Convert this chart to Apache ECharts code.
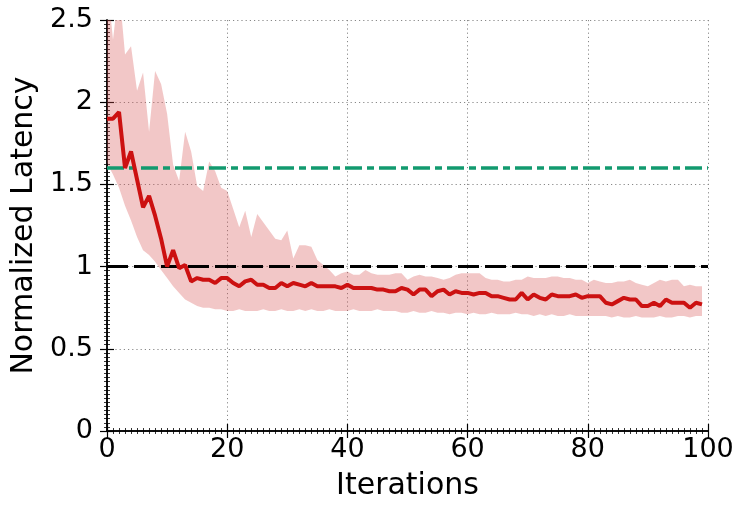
<!DOCTYPE html>
<html>
<head>
<meta charset="utf-8">
<script src="https://cdn.jsdelivr.net/npm/echarts@6/dist/echarts.min.js"></script>
<style>html,body{margin:0;padding:0;background:#fff}#c{width:750px;height:509px}</style>
</head>
<body>
<div id="c"></div>
<script>
const xTicks = [0, 20, 40, 60, 80, 100];
const yTicks = [0, 0.5, 1, 1.5, 2, 2.5];
const meanLatency = [
1.90,1.90,1.94,1.60,1.70,1.53,1.36,1.43,1.31,1.17,1.00,1.10,0.99,1.01,0.91,0.93,0.92,0.92,0.90,0.93,
0.93,0.90,0.88,0.91,0.92,0.89,0.89,0.87,0.87,0.90,0.88,0.90,0.89,0.88,0.90,0.88,0.88,0.88,0.88,0.87,
0.89,0.87,0.87,0.87,0.87,0.86,0.86,0.85,0.85,0.87,0.86,0.83,0.86,0.86,0.82,0.85,0.86,0.83,0.85,0.84,
0.84,0.83,0.84,0.84,0.82,0.82,0.81,0.80,0.80,0.84,0.80,0.83,0.81,0.80,0.83,0.82,0.82,0.82,0.83,0.81,
0.82,0.82,0.82,0.78,0.77,0.79,0.81,0.80,0.80,0.76,0.76,0.78,0.76,0.80,0.78,0.78,0.78,0.75,0.78,0.77];
const upperBand = [
2.75,2.38,2.70,2.29,2.34,2.07,2.18,1.82,2.19,2.11,1.93,1.62,1.52,1.82,1.70,1.49,1.46,1.64,1.58,1.48,
1.46,1.35,1.24,1.34,1.18,1.32,1.27,1.22,1.17,1.16,1.22,1.05,1.13,1.13,1.12,1.04,1.01,0.98,0.94,0.96,
0.97,0.95,0.95,0.98,0.96,0.95,0.95,0.95,0.96,0.96,0.92,0.94,0.95,0.94,0.94,0.93,0.92,0.93,0.95,0.96,
0.96,0.96,0.96,0.93,0.92,0.92,0.91,0.91,0.92,0.92,0.94,0.93,0.93,0.93,0.94,0.94,0.93,0.93,0.92,0.92,
0.90,0.92,0.91,0.90,0.90,0.91,0.91,0.92,0.90,0.89,0.88,0.90,0.92,0.91,0.92,0.92,0.88,0.89,0.88,0.88];
const lowerBand = [
1.63,1.56,1.48,1.37,1.28,1.18,1.10,1.07,1.03,0.98,0.93,0.88,0.84,0.80,0.78,0.76,0.75,0.75,0.74,0.74,
0.73,0.73,0.74,0.73,0.73,0.73,0.74,0.73,0.73,0.74,0.73,0.73,0.74,0.73,0.74,0.73,0.73,0.74,0.73,0.73,
0.73,0.74,0.73,0.73,0.73,0.74,0.73,0.73,0.73,0.72,0.72,0.73,0.72,0.72,0.73,0.72,0.72,0.71,0.72,0.72,
0.71,0.72,0.71,0.71,0.72,0.71,0.71,0.71,0.72,0.71,0.71,0.70,0.71,0.70,0.71,0.70,0.70,0.71,0.70,0.70,
0.70,0.70,0.70,0.70,0.69,0.70,0.69,0.69,0.70,0.69,0.69,0.69,0.70,0.69,0.69,0.70,0.70,0.69,0.70,0.70];
const baselineLevel = 1.6;   // green dash-dot
const referenceLevel = 1.0;  // black dashed

const iterations = meanLatency.map((_, i) => i);
const FONT = 'DejaVu Sans';

const chart = echarts.init(document.getElementById('c'), null, {renderer: 'canvas'});
const axisCommon = {
  type: 'value',
  axisLine: {show: true, lineStyle: {color: '#000', width: 1.5}},
  axisTick: {show: true, inside: true, length: 7, lineStyle: {color: '#000', width: 1.2}},
  minorTick: {show: true, length: 3, lineStyle: {color: '#000', width: 0.8}},
};
const gridLine = {show: true, lineStyle: {color: '#888', type: [1.2, 3], width: 1}};
const option = {
  animation: false,
  grid: {left: 107, right: 42, top: 20, bottom: 78},
  xAxis: [
    Object.assign({}, axisCommon, {
      position: 'bottom', min: xTicks[0], max: xTicks[xTicks.length-1], interval: xTicks[1]-xTicks[0],
      minorTick: Object.assign({}, axisCommon.minorTick, {splitNumber: 20}),
      axisLabel: {show: true, fontFamily: FONT, fontSize: 27, color: '#000', margin: 5},
      splitLine: gridLine,
      name: 'Iterations', nameLocation: 'middle', nameGap: 40,
      nameTextStyle: {fontFamily: FONT, fontSize: 30, color: '#000'}
    }),
    Object.assign({}, axisCommon, {
      position: 'top', min: xTicks[0], max: xTicks[xTicks.length-1], interval: xTicks[1]-xTicks[0],
      minorTick: Object.assign({}, axisCommon.minorTick, {splitNumber: 20}),
      axisLabel: {show: false}, splitLine: {show: false}
    })
  ],
  yAxis: [
    Object.assign({}, axisCommon, {
      position: 'left', min: yTicks[0], max: yTicks[yTicks.length-1], interval: yTicks[1]-yTicks[0],
      minorTick: Object.assign({}, axisCommon.minorTick, {splitNumber: 20}),
      axisLabel: {show: true, fontFamily: FONT, fontSize: 27, color: '#000', margin: 14},
      splitLine: gridLine,
      name: 'Normalized Latency', nameLocation: 'middle', nameGap: 66,
      nameTextStyle: {fontFamily: FONT, fontSize: 30, color: '#000'}
    }),
    Object.assign({}, axisCommon, {
      position: 'right', min: yTicks[0], max: yTicks[yTicks.length-1], interval: yTicks[1]-yTicks[0],
      minorTick: Object.assign({}, axisCommon.minorTick, {splitNumber: 20}),
      axisLabel: {show: false}, splitLine: {show: false}
    })
  ],
  series: [
    {
      name: 'band', type: 'custom', coordinateSystem: 'cartesian2d', clip: true, silent: true, z: 1,
      data: iterations.map((x, i) => [x, lowerBand[i], upperBand[i]]),
      encode: {x: 0, y: [1, 2]},
      renderItem: function (params, api) {
        if (params.dataIndex !== 0) return null;
        const pts = [];
        for (let i = 0; i < iterations.length; i++) pts.push(api.coord([iterations[i], upperBand[i]]));
        for (let i = iterations.length - 1; i >= 0; i--) pts.push(api.coord([iterations[i], lowerBand[i]]));
        return {type: 'polygon', shape: {points: pts}, style: {fill: 'rgba(216,80,80,0.32)'}};
      }
    },
    {
      name: 'refs', type: 'line', symbol: 'none', data: [], z: 3,
      markLine: {
        silent: true, symbol: 'none', label: {show: false},
        data: [
          {yAxis: baselineLevel, lineStyle: {color: '#129a6f', width: 3.5, type: [17, 5, 7, 5]}},
          {yAxis: referenceLevel, lineStyle: {color: '#000', width: 3, type: [21, 6]}}
        ]
      }
    },
    {
      name: 'mean', type: 'line', symbol: 'none', z: 5,
      data: iterations.map((x, i) => [x, meanLatency[i]]),
      lineStyle: {color: '#cc1111', width: 4}
    }
  ]
};
chart.setOption(option);
</script>
</body>
</html>
